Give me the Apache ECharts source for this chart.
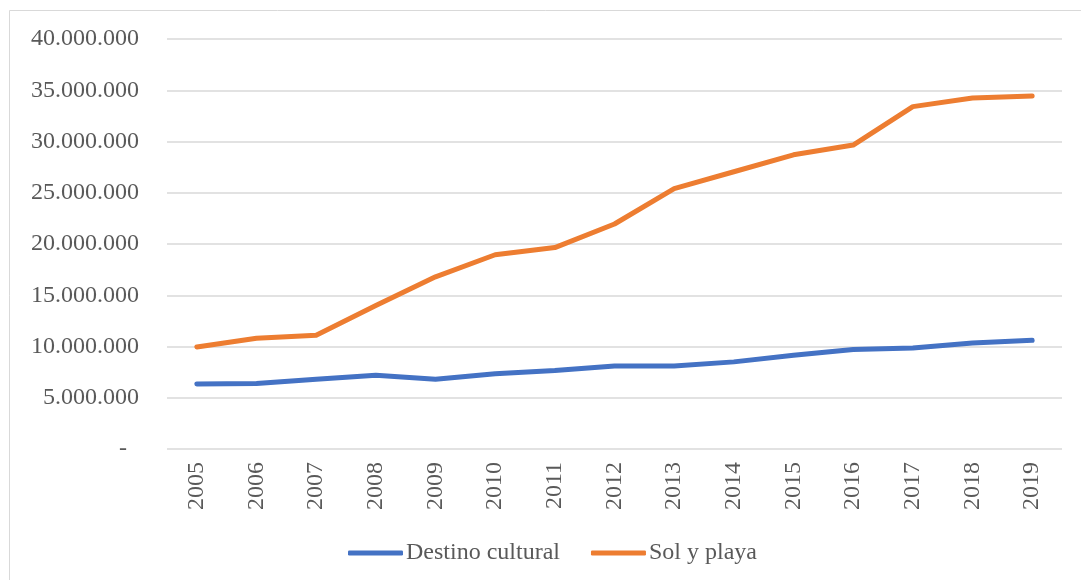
<!DOCTYPE html>
<html>
<head>
<meta charset="utf-8">
<script src="https://cdn.jsdelivr.net/npm/echarts@6/dist/echarts.min.js"></script>
<style>
html,body{margin:0;padding:0;background:#fff;}
#chart{width:1081px;height:580px;}
</style>
</head>
<body>
<div id="chart"></div>
<script>
const years = ['2005','2006','2007','2008','2009','2010','2011','2012','2013','2014','2015','2016','2017','2018','2019'];
const destinoCultural = [6340000,6400000,6800000,7200000,6800000,7350000,7650000,8100000,8100000,8500000,9150000,9700000,9850000,10350000,10600000];
const solYPlaya = [9950000,10800000,11100000,14000000,16800000,18950000,19650000,21950000,25400000,27050000,28700000,29650000,33400000,34250000,34450000];
const seriesNames = ['Destino cultural','Sol y playa'];

const font = '"Liberation Serif","Times New Roman",serif';
const textColor = '#595959';

function fmt(v){
  if (v === 0) return '-  ';
  return String(Math.round(v)).replace(/\B(?=(\d{3})+(?!\d))/g, '.');
}

const chart = echarts.init(document.getElementById('chart'), null, {renderer:'canvas'});
chart.setOption({
  animation:false,
  backgroundColor:'#fff',
  graphic:[{
    type:'rect', silent:true,
    shape:{x:9.5,y:10.5,width:1100,height:600},
    style:{fill:'none',stroke:'#d9d9d9',lineWidth:1}
  }],
  grid:{left:167,right:19,top:39,bottom:131,containLabel:false},
  xAxis:{
    type:'category',
    data:years,
    boundaryGap:true,
    axisLine:{show:false},
    axisTick:{show:false},
    axisLabel:{rotate:90,margin:13,color:textColor,fontFamily:font,fontSize:24}
  },
  yAxis:{
    type:'value',
    min:0,max:40000000,interval:5000000,
    axisLine:{show:false},
    axisTick:{show:false},
    splitLine:{lineStyle:{color:'#d9d9d9',width:1.5}},
    axisLabel:{margin:28,color:textColor,fontFamily:font,fontSize:24,formatter:fmt}
  },
  legend:{
    left:343, top:536,
    itemWidth:55, itemHeight:5, itemGap:31,
    icon:'roundRect',
    textStyle:{color:textColor,fontFamily:font,fontSize:24,padding:[0,0,0,-2]},
    data:seriesNames
  },
  series:[
    {name:seriesNames[0],type:'line',data:destinoCultural,symbol:'none',
     lineStyle:{color:'#4472C4',width:5,cap:'round',join:'round'},itemStyle:{color:'#4472C4'}},
    {name:seriesNames[1],type:'line',data:solYPlaya,symbol:'none',
     lineStyle:{color:'#ED7D31',width:5,cap:'round',join:'round'},itemStyle:{color:'#ED7D31'}}
  ]
});
</script>
</body>
</html>
